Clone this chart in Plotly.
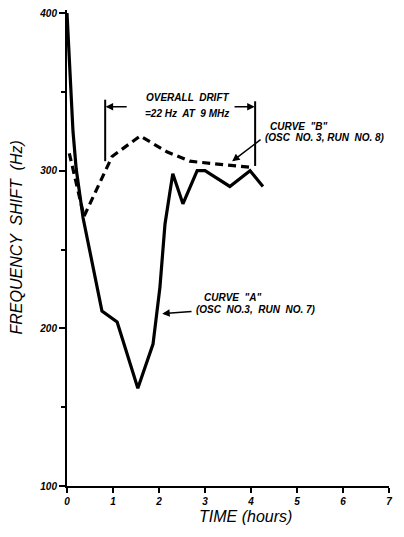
import plotly.graph_objects as go

# Curve A (solid): OSC NO.3, RUN NO.7
a_time = [0.0, 0.13, 0.2, 0.35, 0.76, 1.09, 1.54, 1.87, 2.02, 2.13, 2.24, 2.30, 2.52, 2.83, 3.0, 3.54, 3.98, 4.26]
a_shift = [400, 325, 301, 270, 211, 204, 162, 190, 226, 266, 287, 298, 279, 300, 300, 290, 300, 290]

# Curve B (dashed): OSC NO.3, RUN NO.8
b_time = [0.05, 0.22, 0.37, 0.98, 1.59, 2.17, 2.67, 3.33, 4.04]
b_shift = [311, 290, 271, 309, 322, 312, 306, 304, 302]

x_ticks = [0, 1, 2, 3, 4, 5, 6, 7]
y_ticks = [100, 200, 300, 400]
y_minor = [150, 250, 350]

FONT = "Liberation Sans"

fig = go.Figure()
fig.add_trace(go.Scatter(x=a_time, y=a_shift, mode="lines",
                         line=dict(color="black", width=3.2), showlegend=False))
fig.add_trace(go.Scatter(x=b_time, y=b_shift, mode="lines",
                         line=dict(color="black", width=3.2, dash="8px,5px"), showlegend=False))

def lbl(s):
    return "<b><i>" + s + "</i></b>"

fig.update_xaxes(range=[0, 7], tickvals=x_ticks, ticktext=[lbl(str(v)) for v in x_ticks],
                 showline=True, linecolor="black", linewidth=2, ticks="outside",
                 ticklen=5, tickwidth=2, tickcolor="black", showgrid=False, zeroline=False,
                 ticklabeloverflow="allow",
                 tickfont=dict(family=FONT, size=10, color="black"))
fig.update_yaxes(range=[100, 401.9], tickvals=y_ticks, ticktext=[lbl(str(v)) for v in y_ticks],
                 showline=True, linecolor="black", linewidth=2, ticks="outside",
                 ticklen=6, tickwidth=2, tickcolor="black", showgrid=False, zeroline=False,
                 ticklabeloverflow="allow",
                 tickfont=dict(family=FONT, size=10, color="black"),
                 minor=dict(tickvals=y_minor, ticks="outside", ticklen=4, tickwidth=1.5,
                            tickcolor="black", showgrid=False))

# bracket verticals
fig.add_shape(type="line", x0=0.83, x1=0.83, y0=345, y1=306, line=dict(color="black", width=2))
fig.add_shape(type="line", x0=4.09, x1=4.09, y0=344, y1=303, line=dict(color="black", width=2))

tf = dict(family=FONT, size=10, color="black")
ann = []
ann.append(dict(x=2.63, y=346.3, text=lbl("OVERALL  DRIFT"), showarrow=False, font=tf))
ann.append(dict(x=2.61, y=336.5, text=lbl("=22 Hz  AT  9 MHz"), showarrow=False, font=tf))
ann.append(dict(x=0.84, y=340.6, ax=1.33, ay=340.6, axref="x", ayref="y", text="",
                showarrow=True, arrowhead=2, arrowsize=1, arrowwidth=1.5, arrowcolor="black"))
ann.append(dict(x=4.08, y=340.6, ax=3.61, ay=340.6, axref="x", ayref="y", text="",
                showarrow=True, arrowhead=2, arrowsize=1, arrowwidth=1.5, arrowcolor="black"))
# Curve B label
ann.append(dict(x=4.37, y=328, text=lbl('CURVE  "B"'), showarrow=False, font=tf, xanchor="left"))
ann.append(dict(x=4.25, y=321, text=lbl("(OSC  NO. 3, RUN  NO. 8)"), showarrow=False, font=tf, xanchor="left"))
ann.append(dict(x=3.59, y=305.9, ax=4.24, ay=320.4, axref="x", ayref="y", text="",
                showarrow=True, arrowhead=2, arrowsize=1, arrowwidth=1.5, arrowcolor="black"))
# Curve A label
ann.append(dict(x=2.93, y=219.3, text=lbl('CURVE  "A"'), showarrow=False, font=tf, xanchor="left"))
ann.append(dict(x=2.76, y=212.2, text=lbl("(OSC  NO.3,  RUN  NO. 7)"), showarrow=False, font=tf, xanchor="left"))
ann.append(dict(x=2.07, y=209.3, ax=2.74, ay=210.8, axref="x", ayref="y", text="",
                showarrow=True, arrowhead=2, arrowsize=1, arrowwidth=1.5, arrowcolor="black"))
# Axis titles
ann.append(dict(xref="paper", yref="paper", x=-61/322, y=(486-237)/478, text="<i>FREQUENCY  SHIFT  (Hz)</i>",
                showarrow=False, textangle=-90, font=dict(family=FONT, size=16, color="black")))
ann.append(dict(xref="paper", yref="paper", x=(245-67)/322, y=-(527-486)/478, text="<i>TIME (hours)</i>",
                showarrow=False, font=dict(family=FONT, size=16, color="black")))
fig.update_layout(annotations=ann)

fig.update_layout(width=388, height=521, margin=dict(l=59, r=7, t=0, b=43),
                  plot_bgcolor="white", paper_bgcolor="white", showlegend=False)

fig.write_html("out.html")
